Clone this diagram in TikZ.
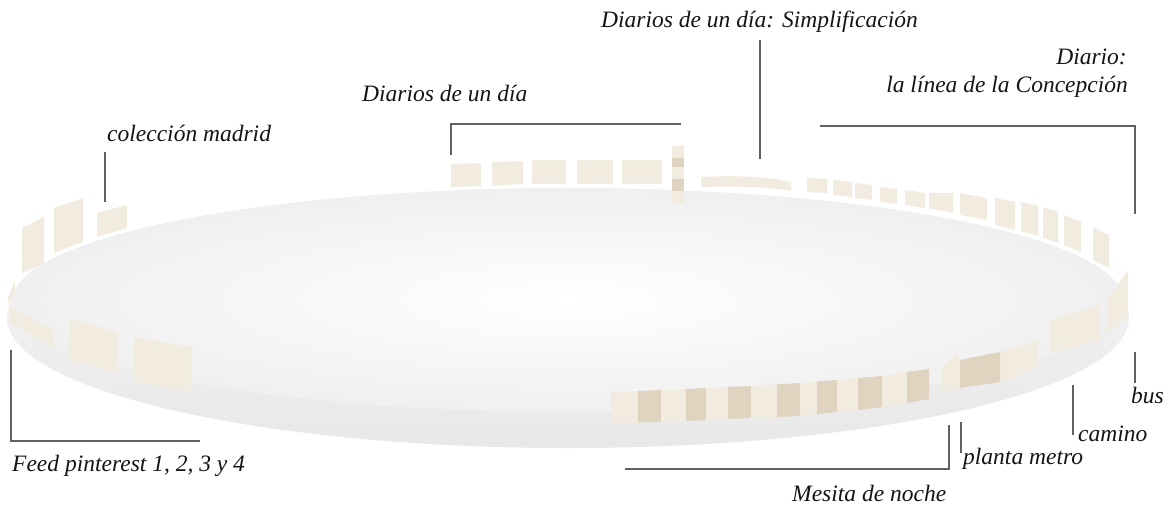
\documentclass[tikz,border=0pt]{standalone}
\usepackage{fontspec}
\setmainfont{Liberation Serif}
\begin{document}
\begin{tikzpicture}[x=1pt,y=-1pt,
  lbl/.style={font=\fontsize{23.5}{26}\selectfont\itshape, inner sep=0pt, text=black!92},
  lead/.style={draw=black!62, line width=1.1pt},
  lt/.style={fill=tileL},
  dk/.style={fill=tileD}]
\definecolor{tileL}{HTML}{F2EBDF}
\definecolor{tileD}{HTML}{E0D3BF}
\useasboundingbox (0,0) rectangle (1173,508);
% disc
\shade[top color=black!3, bottom color=black!9] (568,318) ellipse [x radius=561, y radius=130];
\shade[inner color=white, outer color=black!6] (568,300) ellipse [x radius=555, y radius=112];
% colección madrid tiles
\fill[lt] (22,228) -- (44,217) -- (44,264) -- (22,273) -- cycle;
\fill[lt] (54,208) -- (83,198) -- (83,242) -- (54,253) -- cycle;
\fill[lt] (97,213) -- (127,205) -- (127,228) -- (97,237) -- cycle;
% feed pinterest tiles
\fill[lt] (8,297) -- (15,281) -- (15,292) -- (9,306) -- cycle;
\fill[lt] (9,306) -- (54,331) -- (54,348) -- (10,322) -- cycle;
\fill[lt] (69,318) -- (118,332) -- (118,373) -- (69,360) -- cycle;
\fill[lt] (134,337) -- (192,347) -- (192,392) -- (134,382) -- cycle;
% diarios de un día
\fill[lt] (451,164) -- (481,163) -- (481,186) -- (451,187) -- cycle;
\fill[lt] (492,162) -- (523,161) -- (523,184) -- (492,186) -- cycle;
\fill[lt] (532,160) -- (566,160) -- (566,184) -- (532,184) -- cycle;
\fill[lt] (577,160) -- (613,160) -- (613,184) -- (577,184) -- cycle;
\fill[lt] (622,160) -- (662,160) -- (662,184) -- (622,184) -- cycle;
\fill[lt] (672,146) rectangle (684,203);
\fill[dk] (672,158) rectangle (684,167);
\fill[dk] (672,179) rectangle (684,191);
% simplificación
\fill[lt] (701,177) .. controls (740,175) and (770,177) .. (791,182) -- (791,191) .. controls (770,187) and (740,186) .. (701,187) -- cycle;
% línea de la concepción
\fill[lt] (807,178) -- (827,179) -- (827,193) -- (807,192) -- cycle;
\fill[lt] (833,180) -- (852,182) -- (852,197) -- (833,195) -- cycle;
\fill[lt] (855,183) -- (872,185) -- (872,200) -- (855,198) -- cycle;
\fill[lt] (880,187) -- (897,189) -- (897,204) -- (880,202) -- cycle;
\fill[lt] (905,190) -- (925,193) -- (925,208) -- (905,205) -- cycle;
\fill[lt] (929,193) -- (953,193) -- (953,213) -- (929,208) -- cycle;
\fill[lt] (960,193) -- (987,198) -- (987,220) -- (960,215) -- cycle;
\fill[lt] (995,198) -- (1015,202) -- (1015,230) -- (995,225) -- cycle;
\fill[lt] (1021,202) -- (1038,206) -- (1038,236) -- (1021,231) -- cycle;
\fill[lt] (1043,207) -- (1058,212) -- (1058,243) -- (1043,238) -- cycle;
\fill[lt] (1064,215) -- (1081,222) -- (1081,252) -- (1064,245) -- cycle;
\fill[lt] (1093,227) -- (1109,235) -- (1109,268) -- (1093,260) -- cycle;
% bus / camino / planta metro
\fill[lt] (1107,300) -- (1128,270) -- (1128,317) -- (1107,333) -- cycle;
\fill[lt] (1050,320) -- (1100,305) -- (1100,340) -- (1050,353) -- cycle;
\fill[lt] (1000,352) -- (1038,340) -- (1038,368) -- (1000,382) -- cycle;
\fill[dk] (960,360) -- (1000,352) -- (1000,382) -- (960,388) -- cycle;
\fill[lt] (942,368) -- (957,354) -- (960,360) -- (960,388) -- (942,392) -- cycle;
% mesita de noche
\fill[lt] (611,392) -- (638,391) -- (638,422.5) -- (611,423) -- cycle;
\fill[dk] (638,391) -- (661,390) -- (661,422) -- (638,422.5) -- cycle;
\fill[lt] (661,390) -- (686,389) -- (686,421) -- (661,422) -- cycle;
\fill[dk] (686,389) -- (706,388) -- (706,420) -- (686,421) -- cycle;
\fill[lt] (706,388) -- (728,387) -- (728,419) -- (706,420) -- cycle;
\fill[dk] (728,387) -- (751,386) -- (751,418) -- (728,419) -- cycle;
\fill[lt] (751,386) -- (777,384.5) -- (777,417) -- (751,418) -- cycle;
\fill[dk] (777,384.5) -- (800,383) -- (800,416) -- (777,417) -- cycle;
\fill[lt] (800,383) -- (817,381.5) -- (817,414) -- (800,416) -- cycle;
\fill[dk] (817,381.5) -- (837,380) -- (837,412) -- (817,414) -- cycle;
\fill[lt] (837,380) -- (858,378) -- (858,410) -- (837,412) -- cycle;
\fill[dk] (858,378) -- (882,376) -- (882,407) -- (858,410) -- cycle;
\fill[lt] (882,376) -- (907,372) -- (907,403) -- (882,407) -- cycle;
\fill[dk] (907,372) -- (929,369) -- (929,399) -- (907,403) -- cycle;
% labels
\node[lbl, anchor=base west] (coleccion) at (107,142) {colección madrid};
\node[lbl, anchor=base west] (feed) at (12,471) {Feed pinterest 1, 2, 3 y 4};
\node[lbl, anchor=base west] (diarios) at (362,102) {Diarios de un día};
\node[lbl, anchor=base west] (simpl) at (601,28) {Diarios de un día: Simplificación};
\node[lbl, anchor=base east] (diario) at (1127,65) {Diario:};
\node[lbl, anchor=base east] (linea) at (1128,93) {la línea de la Concepción};
\node[lbl, anchor=base west] (bus) at (1131,403) {bus};
\node[lbl, anchor=base west] (camino) at (1078,441) {camino};
\node[lbl, anchor=base west] (planta) at (963,464) {planta metro};
\node[lbl, anchor=base west] (mesita) at (792,501) {Mesita de noche};
% leader coordinates
\coordinate (c1) at (105,152); \coordinate (c2) at (105,202);
\coordinate (f1) at (11,350); \coordinate (f2) at (11,441); \coordinate (f3) at (200,441);
\coordinate (d1) at (451,155); \coordinate (d2) at (451,124); \coordinate (d3) at (681,124);
\coordinate (s1) at (760,40); \coordinate (s2) at (760,159);
\coordinate (l1) at (820,126); \coordinate (l2) at (1135,126); \coordinate (l3) at (1135,214);
\coordinate (b1) at (1135,352); \coordinate (b2) at (1135,383);
\coordinate (k1) at (1073,385); \coordinate (k2) at (1073,435);
\coordinate (p1) at (961,422); \coordinate (p2) at (961,453);
\coordinate (m1) at (625,469); \coordinate (m2) at (949,469); \coordinate (m3) at (949,425);
\draw[lead] (c1) -- (c2);
\draw[lead] (f1) -- (f2) -- (f3);
\draw[lead] (d1) -- (d2) -- (d3);
\draw[lead] (s1) -- (s2);
\draw[lead] (l1) -- (l2) -- (l3);
\draw[lead] (b1) -- (b2);
\draw[lead] (k1) -- (k2);
\draw[lead] (p1) -- (p2);
\draw[lead] (m1) -- (m2) -- (m3);
\end{tikzpicture}
\end{document}
